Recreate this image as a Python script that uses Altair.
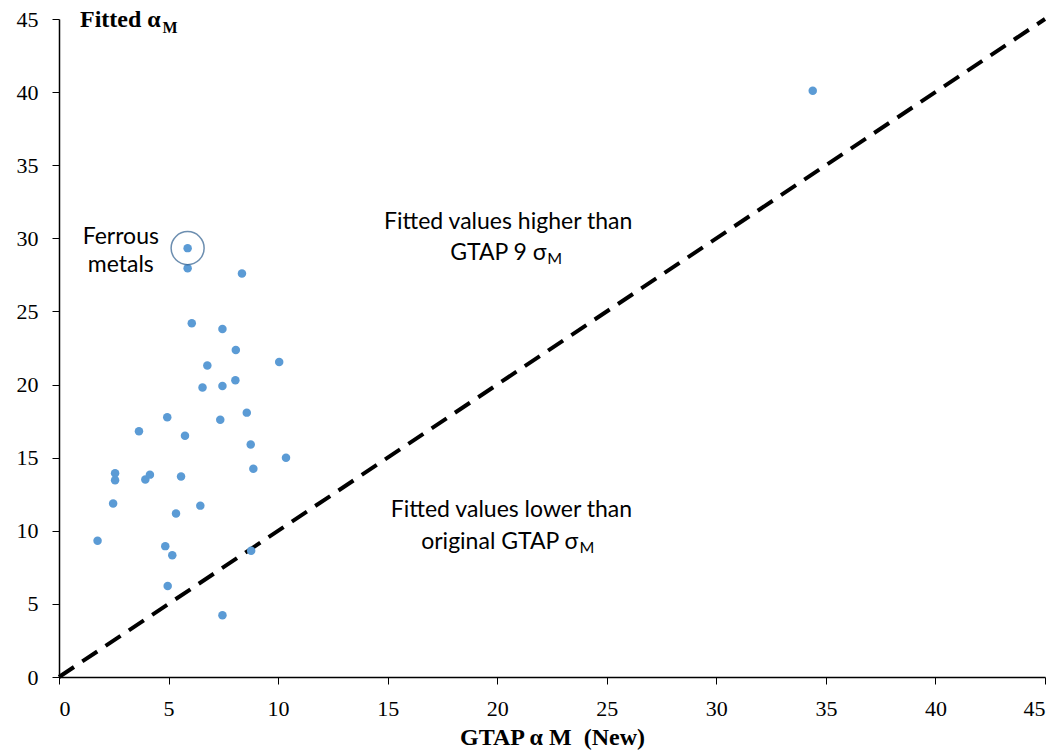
import altair as alt
import pandas as pd

# Scatter data (GTAP sigma_M new vs fitted)
gtap_x = [34.4, 5.87, 5.87, 8.35, 6.06, 7.46, 8.07, 10.05, 6.77,
          6.55, 7.46, 8.05, 4.94, 8.57, 7.36, 3.65, 5.75, 8.75, 10.36,
          2.56, 2.56, 3.94, 4.15, 5.57, 8.87, 2.47, 6.45, 5.34, 1.76,
          4.85, 5.17, 8.77, 4.96, 7.46]
fitted_y = [40.1, 29.33, 27.95, 27.6, 24.2, 23.8, 22.36, 21.54, 21.3,
            19.8, 19.9, 20.3, 17.77, 18.08, 17.6, 16.8, 16.5, 15.9, 15.0,
            13.93, 13.45, 13.5, 13.84, 13.72, 14.25, 11.86, 11.72, 11.18, 9.32,
            8.95, 8.32, 8.64, 6.23, 4.23]

diag_x = [0, 45]
diag_y = [0, 45]

tick_vals = [0, 5, 10, 15, 20, 25, 30, 35, 40, 45]

# highlighted point (Ferrous metals)
hi_x = [5.87]
hi_y = [29.33]

# annotation texts (data coordinates)
ann_text = ["Ferrous", "metals", "Fitted values higher than", "Fitted values lower than"]
ann_x = [2.82, 2.82, 20.5, 20.65]
ann_y = [30.1, 28.2, 31.15, 11.45]

sub_main_text = ["GTAP 9 σ", "original GTAP σ"]
sub_main_x = [22.25, 23.7]
sub_main_y = [29.0, 9.25]
sub_m_text = ["M", "M"]
sub_m_x = [22.28, 23.75]
sub_m_y = [28.6, 8.85]

W, H = 986, 658
xs = alt.Scale(domain=[0, 45], nice=False, zero=True)
ys = alt.Scale(domain=[0, 45], nice=False, zero=True)

pts = pd.DataFrame({"x": gtap_x, "y": fitted_y})
diag = pd.DataFrame({"x": diag_x, "y": diag_y})
hi = pd.DataFrame({"x": hi_x, "y": hi_y})
ann = pd.DataFrame({"t": ann_text, "x": ann_x, "y": ann_y})
subm = pd.DataFrame({"t": sub_main_text, "x": sub_main_x, "y": sub_main_y})
subs = pd.DataFrame({"t": sub_m_text, "x": sub_m_x, "y": sub_m_y})
ttl = pd.DataFrame({"t": ["Fitted α"], "x": [0.96], "y": [44.9]})
ttls = pd.DataFrame({"t": ["M"], "x": [4.72], "y": [44.4]})

x_axis = alt.Axis(values=tick_vals, title="GTAP α M\u00a0\u00a0(New)", labelPadding=14,
                  titlePadding=6, titleFont="Liberation Serif", titleFontSize=24,
                  titleFontWeight="bold", titleColor="black")
y_axis = alt.Axis(values=tick_vals, title=None, labelPadding=14)

line = alt.Chart(diag).mark_line(color="black", strokeWidth=4, strokeDash=[18, 10]).encode(
    x=alt.X("x:Q", scale=xs, axis=x_axis),
    y=alt.Y("y:Q", scale=ys, axis=y_axis),
)

scatter = alt.Chart(pts).mark_circle(size=72, color="#5B9BD5", opacity=1).encode(
    x=alt.X("x:Q", scale=xs), y=alt.Y("y:Q", scale=ys)
)

ring = alt.Chart(hi).mark_point(shape="circle", size=1090, filled=False,
                                color="#2F5F8F", strokeWidth=1.5).encode(
    x=alt.X("x:Q", scale=xs), y=alt.Y("y:Q", scale=ys)
)

ann_layer = alt.Chart(ann).mark_text(font="Lato", fontSize=23, color="black",
                                     align="center", baseline="middle").encode(
    x=alt.X("x:Q", scale=xs), y=alt.Y("y:Q", scale=ys), text="t:N"
)

subm_layer = alt.Chart(subm).mark_text(font="Lato", fontSize=23, color="black",
                                       align="right", baseline="middle").encode(
    x=alt.X("x:Q", scale=xs), y=alt.Y("y:Q", scale=ys), text="t:N"
)
subs_layer = alt.Chart(subs).mark_text(font="Lato", fontSize=16, color="black",
                                       align="left", baseline="middle").encode(
    x=alt.X("x:Q", scale=xs), y=alt.Y("y:Q", scale=ys), text="t:N"
)

ttl_layer = alt.Chart(ttl).mark_text(font="Liberation Serif", fontSize=24, fontWeight="bold",
                                     color="black", align="left", baseline="middle").encode(
    x=alt.X("x:Q", scale=xs), y=alt.Y("y:Q", scale=ys), text="t:N"
)
ttls_layer = alt.Chart(ttls).mark_text(font="Liberation Serif", fontSize=16, fontWeight="bold",
                                       color="black", align="left", baseline="middle").encode(
    x=alt.X("x:Q", scale=xs), y=alt.Y("y:Q", scale=ys), text="t:N"
)

chart = alt.layer(line, scatter, ring, ann_layer, subm_layer, subs_layer,
                  ttl_layer, ttls_layer).properties(
    width=W, height=H,
    autosize=alt.AutoSizeParams(type="none"),
    padding={"left": 59, "top": 19, "right": 15, "bottom": 76},
    background="white",
).configure_view(stroke=None).configure_axis(
    grid=False, domainColor="black", domainWidth=1.5, tickColor="black",
    tickSize=7, tickWidth=1, labelFont="Liberation Serif", labelFontSize=22,
    labelColor="black"
)

chart.save("out.html", embed_options={"renderer": "svg", "actions": False})
